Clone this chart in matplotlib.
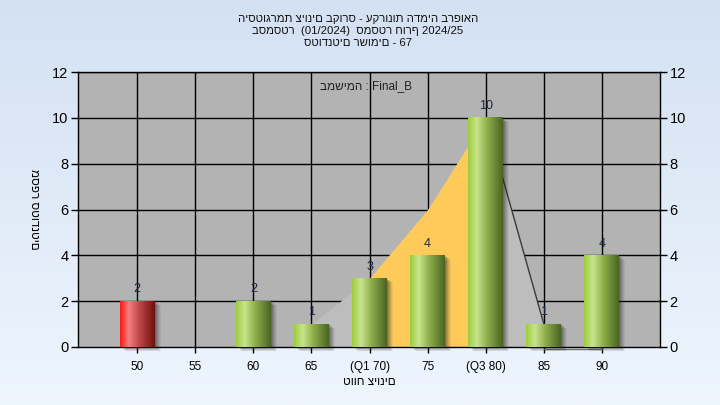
import numpy as np
import matplotlib.pyplot as plt
import matplotlib.transforms as mtransforms
from matplotlib.colors import LinearSegmentedColormap
from matplotlib.patches import Rectangle

plt.rcParams['font.family'] = ['Liberation Sans', 'DejaVu Sans']

# ==============
# Data
# ==============
categories = ['50', '55', '60', '65', '(Q1 70)', '75', '(Q3 80)', '85', '90']
counts = [2, 0, 2, 1, 3, 4, 10, 1, 4]
failing = ['50']  # red bar

# overlay area (from 65 to 85)
curve_cats = ['65', '(Q1 70)', '75', '(Q3 80)', '85']
curve_vals = [1, 3, 6, 10, 1]
quartile_cats = ['(Q1 70)', '75', '(Q3 80)']

title_lines = ['היסטוגרמת ציונים בקורס - עקרונות הדמיה ברפואה',
               'בסמסטר  (01/2024)  סמסטר חורף 2024/25',
               'סטודנטים רשומים - 67']
task_text = 'במשימה : Final_B'
x_title = 'טווח ציונים'
y_title = 'מספר סטודנטים'

# ==============
# Figure
# ==============
fig = plt.figure(figsize=(7.2, 4.05), dpi=100)

# background gradient
bg = fig.add_axes([0, 0, 1, 1], zorder=-10)
bg_cmap = LinearSegmentedColormap.from_list('bg', ['#d3e1f3', '#eef5fd'])
bg.imshow(np.linspace(0, 1, 256).reshape(-1, 1), cmap=bg_cmap, aspect='auto',
          extent=[0, 1, 0, 1], origin='upper')
bg.axis('off')

ax = fig.add_axes([78 / 720, 1 - 347 / 405, 582 / 720, 275 / 405])
ax.set_facecolor('#b3b3b3')

pos = np.arange(len(categories))
idx = {c: i for i, c in enumerate(categories)}
width = 0.6

# grid
for yv in range(2, 13, 2):
    ax.axhline(yv, color='black', lw=1, zorder=1)
for xv in pos:
    ax.axvline(xv, color='black', lw=1, zorder=1)

# area overlay
cx = [idx[c] for c in curve_cats]
ax.fill_between(cx, 0, curve_vals, color='#bdbdbd', lw=0, zorder=2)
qx = [idx[c] for c in quartile_cats]
qv = [curve_vals[curve_cats.index(c)] for c in quartile_cats]
ax.fill_between(qx, 0, qv, color='#fecb5a', lw=0, zorder=2)
ax.plot(cx[-2:], curve_vals[-2:], color='#3a3a3a', lw=1, zorder=2.5)
ax.plot([idx['85'], idx['90']], [0, 0], color='#707070', lw=1,
        zorder=2.5, clip_on=False,
        transform=mtransforms.offset_copy(ax.transData, fig, y=-2, units='dots'))

# bar gradients
green = LinearSegmentedColormap.from_list(
    'g', [(0, '#9ccc3c'), (0.25, '#c9e48c'), (0.55, '#8eaf4c'), (1, '#4a6422')])
red = LinearSegmentedColormap.from_list(
    'r', [(0, '#ff1414'), (0.25, '#f28080'), (0.55, '#c04848'), (1, '#6e1010')])
grad = np.linspace(0, 1, 128).reshape(1, -1)

for i, (c, v) in enumerate(zip(categories, counts)):
    if v == 0:
        continue
    x0 = pos[i] - width / 2
    # soft shadow
    for k, a in zip(range(6, 0, -1), [0.06, 0.08, 0.1, 0.12, 0.14, 0.16]):
        tr = mtransforms.offset_copy(ax.transData, fig, x=k, y=-k * 0.7, units='dots')
        ax.add_patch(Rectangle((x0, 0), width, v, color='#202020', alpha=a,
                               lw=0, transform=tr, zorder=2.8, clip_on=False))
    cmap = red if c in failing else green
    ax.imshow(grad, cmap=cmap, extent=[x0, x0 + width, 0, v], aspect='auto',
              interpolation='bilinear', zorder=3)
    ax.text(pos[i], v + 0.25, str(v), ha='center', va='bottom', fontsize=9,
            color='#1c2840', zorder=4)

ax.text(0.495, 0.949, task_text, transform=ax.transAxes, ha='center',
        va='center', fontsize=8.5, color='#202020', zorder=5)

ax.set_xlim(-1.02, 9)
ax.set_ylim(0, 12)
ax.set_xticks(pos)
ax.set_xticklabels(categories, fontsize=8.5)
ax.set_yticks(range(0, 13, 2))
ax.tick_params(axis='y', labelsize=10.5, length=5, width=1, right=True,
               labelright=True, pad=2)
ax.tick_params(axis='x', length=4, width=1, pad=6)
for s in ax.spines.values():
    s.set_color('black')
    s.set_linewidth(1)

ax.set_xlabel(x_title, fontsize=8.5, labelpad=2)
ax.set_ylabel(y_title, fontsize=8.5, rotation=270, labelpad=22, va='center')
ax.yaxis.set_label_coords(-0.075, 0.5)

for k, line in enumerate(title_lines):
    fig.text(0.497, 1 - (18.5 + 12 * k) / 405, line, ha='center', va='center',
             fontsize=8.2, color='#101010')

plt.savefig('out.png', dpi=100)
